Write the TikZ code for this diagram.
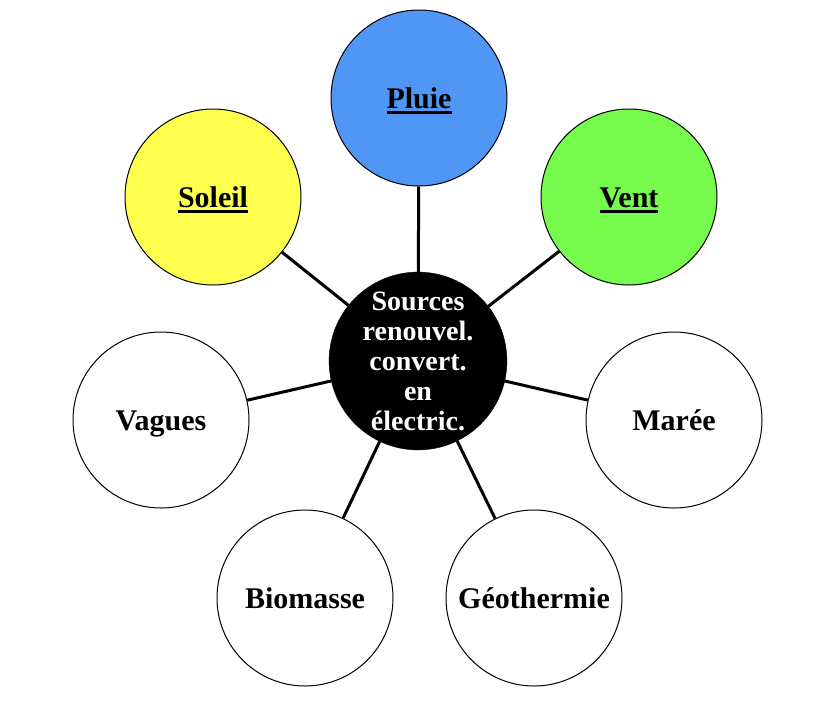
\documentclass[tikz,border=0pt]{standalone}
\usepackage{fontspec}
\setmainfont{Liberation Serif}
\newcommand\myul[1]{\leavevmode\vtop{\hbox{#1}\kern2.5pt\hrule height 2.2pt}}
\definecolor{pluieblue}{RGB}{80,150,245}
\definecolor{soleilyellow}{RGB}{255,255,80}
\definecolor{ventgreen}{RGB}{118,250,76}
\begin{document}
\begin{tikzpicture}[x=1pt,y=-1pt,
  src/.style={circle,draw=black,line width=1pt,minimum size=176pt,inner sep=0pt,
    text height=21pt,text depth=0pt,
    font=\fontsize{30}{32}\selectfont\bfseries},
  hub/.style={circle,fill=black,draw=black,minimum size=176pt,inner sep=0pt,text=white,
    align=center,font=\fontsize{28}{30}\selectfont\bfseries},
  link/.style={line width=3pt}]
\useasboundingbox (0,0) rectangle (816,724);
\node[hub] (c) at (418,361) {Sources\\renouvel.\\convert.\\en\\électric.};
\node[src,fill=pluieblue] (pluie) at (419,98) {\myul{Pluie}};
\node[src,fill=soleilyellow] (soleil) at (213,197) {\myul{Soleil}};
\node[src,fill=ventgreen] (vent) at (629,197) {\myul{Vent}};
\node[src] (vagues) at (161,420) {Vagues};
\node[src] (maree) at (674,420) {Marée};
\node[src] (bio) at (305,598) {Biomasse};
\node[src] (geo) at (534,598) {Géothermie};
\foreach \n in {pluie,soleil,vent,vagues,maree,bio,geo}
  \draw[link] (c) -- (\n);
\end{tikzpicture}
\end{document}
